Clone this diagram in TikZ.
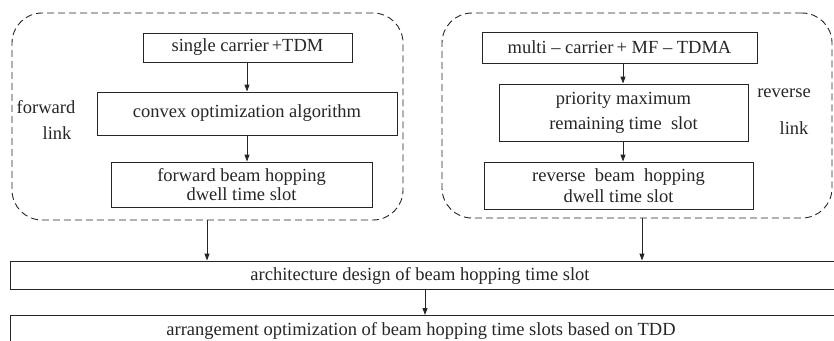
\documentclass[tikz,border=0pt]{standalone}
\usepackage{fontspec}
\setmainfont{Liberation Serif}
\newfontfamily\tnrfont{Liberation Serif}
\usetikzlibrary{arrows.meta}
\begin{document}
\begin{tikzpicture}[x=1pt,y=1pt,
  box/.style={draw=black!85, line width=0.9pt, inner sep=0pt, align=center, text=black!85, font=\tnrfont\fontsize{18.5}{20}\selectfont},
  group/.style={draw=black!85, line width=0.9pt, dash pattern=on 7pt off 4pt, rounded corners=30pt, inner sep=0pt},
  lbl/.style={inner sep=0pt, text=black!85, font=\tnrfont\fontsize{18.5}{20}\selectfont},
  arr/.style={draw=black!85, line width=0.9pt, -{Triangle[length=7pt,width=5pt]}}]
\useasboundingbox (0,0) rectangle (834,-340);
\clip (0,0) rectangle (834,-340);
% dashed groups
\node[group, minimum width=391, minimum height=207] (lf) at (207.5,-116.5) {};
\node[group, minimum width=390, minimum height=205] (rt) at (637,-115.5) {};
% left column
\node[box, minimum width=209, minimum height=29] (b1) at (247.5,-47.5) {single carrier\,+TDM};
\node[box, minimum width=300, minimum height=43] (b2) at (247,-113.5) {convex optimization algorithm};
\node[box, minimum width=261, minimum height=45] (b3) at (241.5,-184.5) {forward beam hopping\\[-1pt]dwell time slot};
\node[lbl] (fl1) at (46,-107) {forward};
\node[lbl] (fl2) at (57,-133) {link};
% right column
\node[box, minimum width=275, minimum height=31] (r1) at (619.5,-47.5) {multi – carrier\,+ MF – TDMA};
\node[box, minimum width=249, minimum height=57] (r2) at (623.5,-112.5) {priority maximum\\[5pt]remaining time\ \ slot};
\node[box, minimum width=269, minimum height=47] (r3) at (618.5,-185.5) {reverse\ \ beam\ \ hopping\\[1pt]dwell time slot};
\node[lbl] (rl1) at (784,-93) {reverse};
\node[lbl] (rl2) at (794,-128) {link};
% bottom boxes
\node[box, minimum width=860, minimum height=28, anchor=west] (A) at (10,-275) {};
\node[lbl] (At) at (420,-276) {architecture design of beam hopping time slot};
\node[box, minimum width=860, minimum height=40, anchor=north west] (B) at (10,-315) {};
\node[lbl] (Bt) at (421,-331) {arrangement optimization of beam hopping time slots based on TDD};
% arrow columns
\coordinate (xl) at (247,0);
\coordinate (xr) at (623,0);
\coordinate (xL) at (207,0);
\coordinate (xR) at (642,0);
\coordinate (xM) at (425,0);
% connectors
\draw[arr] (b1.south -| xl) -- (b2.north -| xl);
\draw[arr] (b2.south -| xl) -- (b3.north -| xl);
\draw[arr] (r1.south -| xr) -- (r2.north -| xr);
\draw[arr] (r2.south -| xr) -- (r3.north -| xr);
\draw[arr] (lf.south -| xL) -- (A.north -| xL);
\draw[arr] (rt.south -| xR) -- (A.north -| xR);
\draw[arr] (A.south -| xM) -- (B.north -| xM);
\end{tikzpicture}
\end{document}
